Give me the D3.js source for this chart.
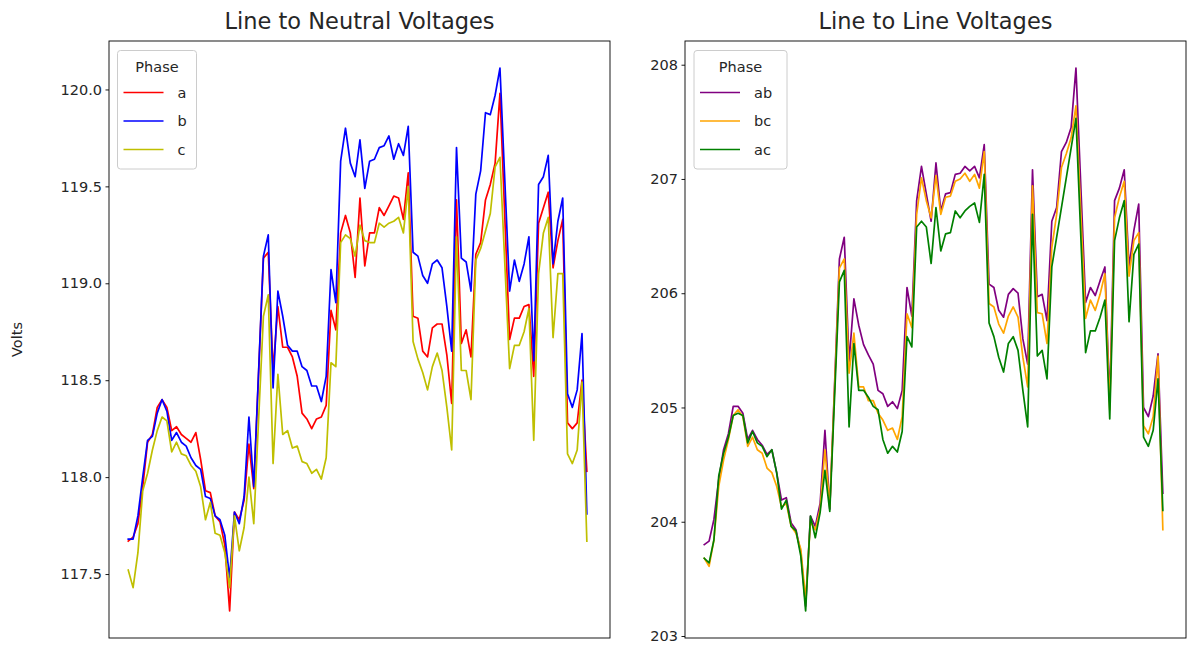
<!DOCTYPE html>
<html><head><meta charset="utf-8">
<script src="https://cdn.jsdelivr.net/npm/d3@7"></script>
<style>
body{margin:0;background:#fff}
text{font-family:"DejaVu Sans",sans-serif;fill:#262626}
</style>
</head><body>
<svg id="chart" width="1191" height="645"></svg>
<script>
// ---------------- DATA ----------------
// Sample index (time step); null = no reading for that series at that step
const phaseA = [117.67,117.69,117.76,117.95,118.18,118.22,118.36,118.40,118.36,118.24,118.26,118.22,118.20,118.18,118.23,118.09,117.93,117.92,117.80,117.77,117.65,117.31,117.82,117.78,117.88,118.17,117.94,null,119.13,119.16,118.55,118.88,118.67,118.67,118.62,118.52,118.33,118.30,118.25,118.30,118.31,118.37,118.86,118.76,119.26,119.35,119.26,119.03,119.44,119.09,119.26,119.26,119.39,119.35,119.40,119.45,119.44,119.33,119.57,118.83,118.82,118.65,118.62,118.77,118.79,118.79,118.63,118.38,119.43,118.69,118.76,118.62,119.15,119.21,119.43,119.51,119.62,119.98,null,118.71,118.82,118.82,118.88,118.89,118.52,119.31,119.39,119.47,119.08,119.22,119.33,118.28,118.25,118.28,118.50,118.03];
const phaseB = [117.68,117.68,117.80,118.00,118.19,118.21,118.33,118.40,118.34,118.19,118.23,118.18,118.16,118.10,118.06,118.04,117.90,117.89,117.80,117.78,117.70,117.48,117.82,117.76,117.90,118.31,117.95,null,119.14,119.25,118.46,118.96,118.83,118.68,118.65,118.65,118.57,118.55,118.47,118.47,118.39,118.52,119.07,118.90,119.63,119.80,119.62,119.55,119.74,119.49,119.63,119.64,119.70,119.71,119.76,119.64,119.72,119.66,119.81,119.16,119.14,119.04,119.00,119.10,119.12,119.08,118.88,118.65,119.70,119.13,119.11,118.96,119.46,119.58,119.88,119.87,119.97,120.11,null,118.96,119.12,119.01,119.10,119.24,118.60,119.51,119.55,119.66,119.10,119.32,119.44,118.43,118.36,118.45,118.74,117.81];
const phaseC = [117.52,117.43,117.61,117.93,118.02,118.14,118.24,118.31,118.29,118.13,118.18,118.12,118.11,118.06,118.03,117.95,117.78,117.87,117.71,117.70,117.61,117.43,117.80,117.62,117.74,118.00,117.76,null,118.83,118.94,118.07,118.53,118.22,118.24,118.15,118.16,118.08,118.07,118.02,118.04,117.99,118.10,118.59,118.57,119.21,119.25,119.23,119.14,119.30,119.22,119.21,119.21,119.31,119.29,119.31,119.32,119.34,119.26,119.50,118.70,118.61,118.54,118.45,118.57,118.64,118.55,118.36,118.14,119.24,118.55,118.55,118.40,119.12,119.18,null,119.36,119.60,119.65,null,118.56,118.68,118.68,118.75,118.87,118.19,119.05,119.26,119.34,118.72,119.05,119.05,118.12,118.07,118.14,118.49,117.67];

const phaseAB = [203.80,203.83,204.02,204.37,204.63,204.77,205.01,205.01,204.95,204.72,204.80,204.72,204.67,204.59,204.63,204.43,204.19,204.21,203.99,203.93,203.73,203.26,204.05,203.96,204.16,204.80,204.11,null,206.30,206.49,205.40,205.95,205.72,205.55,205.46,205.38,205.15,205.12,205.01,205.05,204.99,205.15,206.05,205.80,206.81,207.11,206.87,206.63,207.14,206.72,206.87,206.88,207.04,207.05,207.11,207.07,207.11,207.01,207.30,206.08,206.05,205.85,205.79,205.99,206.04,206.00,205.60,205.38,207.08,205.97,205.99,205.76,206.63,206.75,207.24,207.32,207.45,207.97,null,205.92,206.05,205.98,206.11,206.23,205.05,206.81,206.92,207.08,206.23,206.55,206.78,205.00,204.92,205.10,205.47,204.25];
const phaseBC = [203.68,203.61,203.84,204.31,204.54,204.72,204.93,204.98,204.92,204.66,204.74,204.63,204.60,204.47,204.43,204.31,204.13,204.16,203.96,203.90,203.76,203.32,204.00,203.93,204.11,204.63,204.13,null,206.22,206.30,205.30,205.65,205.18,205.18,205.06,205.06,204.95,204.89,204.80,204.82,204.72,204.92,205.82,205.70,206.69,207.01,206.81,206.66,207.03,206.69,206.84,206.85,206.98,207.00,207.05,206.98,207.04,206.92,207.24,205.91,205.88,205.73,205.65,205.80,205.88,205.79,205.44,205.18,206.94,205.83,205.82,205.56,206.40,206.69,207.10,207.22,207.36,207.64,null,205.78,205.94,205.85,205.99,206.17,204.98,206.66,206.84,206.98,206.15,206.46,206.53,204.84,204.77,204.92,205.45,203.93];
const phaseAC = [203.68,203.64,203.84,204.40,204.60,204.74,204.93,204.95,204.93,204.69,204.79,204.69,204.66,204.57,204.63,204.43,204.11,204.19,203.96,203.92,203.70,203.22,204.05,203.86,204.08,204.45,204.09,null,206.10,206.20,204.83,205.56,205.15,205.15,205.09,205.01,204.98,204.72,204.60,204.66,204.61,204.79,205.62,205.53,206.58,206.63,206.58,206.26,206.75,206.37,206.52,206.53,206.72,206.66,206.72,206.76,206.79,206.62,207.04,205.74,205.62,205.44,205.31,205.56,205.62,205.50,205.15,204.83,206.69,205.45,205.50,205.25,206.23,null,null,null,null,207.53,null,205.48,205.67,205.67,205.79,205.94,204.90,206.46,206.66,206.81,205.75,206.34,206.43,204.74,204.66,204.80,205.25,204.10];

const neutralLabels = ["a", "b", "c"];
const lineLabels = ["ab", "bc", "ac"];
const neutralTicks = [117.5, 118.0, 118.5, 119.0, 119.5, 120.0];
const lineTicks = [203, 204, 205, 206, 207, 208];
const legendTitle = "Phase";
const titles = ["Line to Neutral Voltages", "Line to Line Voltages"];
const yAxisLabel = "Volts";

// ---------------- DRAW ----------------
const svg = d3.select("#chart");
const TOP = 41, BOTTOM = 638;

const panels = [
  {x0: 109, x1: 610, title: titles[0], series: [phaseA, phaseB, phaseC], labels: neutralLabels,
   colors: ["#ff0000", "#0000ff", "#bfbf00"], ticks: neutralTicks, fmt: d3.format(".1f"),
   legendX: 117.5, legendW: 79},
  {x0: 685, x1: 1186, title: titles[1], series: [phaseAB, phaseBC, phaseAC], labels: lineLabels,
   colors: ["#800080", "#ffa500", "#008000"], ticks: lineTicks, fmt: d3.format("d"),
   legendX: 694, legendW: 93}
];

panels.forEach((p, pi) => {
  const g = svg.append("g");
  const n = p.series[0].length;
  const vals = p.series.flat().filter(v => v != null);
  const [mn, mx] = d3.extent(vals);
  const pad = (mx - mn) * 0.05;
  const y = d3.scaleLinear().domain([mn - pad, mx + pad]).range([BOTTOM, TOP]);
  const x = d3.scaleLinear().domain([-(n - 1) * 0.042, (n - 1) * 1.0505]).range([p.x0, p.x1]);

  const clipId = "clip" + pi;
  svg.append("clipPath").attr("id", clipId).append("rect")
    .attr("x", p.x0).attr("y", TOP).attr("width", p.x1 - p.x0).attr("height", BOTTOM - TOP);

  const line = d3.line().x(d => x(d[0])).y(d => y(d[1]));
  p.series.forEach((s, k) => {
    const pts = s.map((v, i) => [i, v]).filter(d => d[1] != null);
    g.append("path")
      .attr("clip-path", `url(#${clipId})`)
      .attr("d", line(pts))
      .attr("fill", "none")
      .attr("stroke", p.colors[k])
      .attr("stroke-width", 1.7)
      .attr("stroke-linejoin", "round")
      .attr("stroke-linecap", "square");
  });

  // frame
  g.append("rect").attr("x", p.x0).attr("y", TOP).attr("width", p.x1 - p.x0).attr("height", BOTTOM - TOP)
    .attr("fill", "none").attr("stroke", "#000").attr("stroke-width", 0.9);

  // y axis
  const ax = g.append("g").attr("transform", `translate(${p.x0},0)`)
    .call(d3.axisLeft(y).tickValues(p.ticks).tickFormat(p.fmt).tickSize(3.5).tickPadding(3.5));
  ax.select(".domain").remove();
  ax.selectAll(".tick line").attr("stroke", "#000").attr("stroke-width", 0.9);
  ax.selectAll(".tick text").attr("font-size", 14.5).attr("fill", "#262626")
    .attr("font-family", "DejaVu Sans, sans-serif");

  // title
  g.append("text").attr("x", (p.x0 + p.x1) / 2).attr("y", 29).attr("text-anchor", "middle")
    .attr("font-size", 22.5).text(p.title);

  // legend
  const lx = p.legendX, ly = 50.5, lh = 118.5;
  const lg = g.append("g");
  lg.append("rect").attr("x", lx).attr("y", ly).attr("width", p.legendW).attr("height", lh)
    .attr("rx", 3).attr("fill", "#fff").attr("fill-opacity", 0.8).attr("stroke", "#cccccc").attr("stroke-width", 1);
  lg.append("text").attr("x", lx + p.legendW / 2).attr("y", ly + 21).attr("text-anchor", "middle")
    .attr("font-size", 14.5).text(legendTitle);
  p.labels.forEach((lab, k) => {
    const yy = ly + 42 + k * 28.5;
    lg.append("line").attr("x1", lx + 6).attr("x2", lx + 46).attr("y1", yy).attr("y2", yy)
      .attr("stroke", p.colors[k]).attr("stroke-width", 1.7);
    lg.append("text").attr("x", lx + 60).attr("y", yy + 5).attr("font-size", 14.5).text(lab);
  });
});

// y label
svg.append("text").attr("transform", `translate(22,${(TOP + BOTTOM) / 2}) rotate(-90)`)
  .attr("text-anchor", "middle").attr("font-size", 14.5).text(yAxisLabel);
</script>
</body></html>
